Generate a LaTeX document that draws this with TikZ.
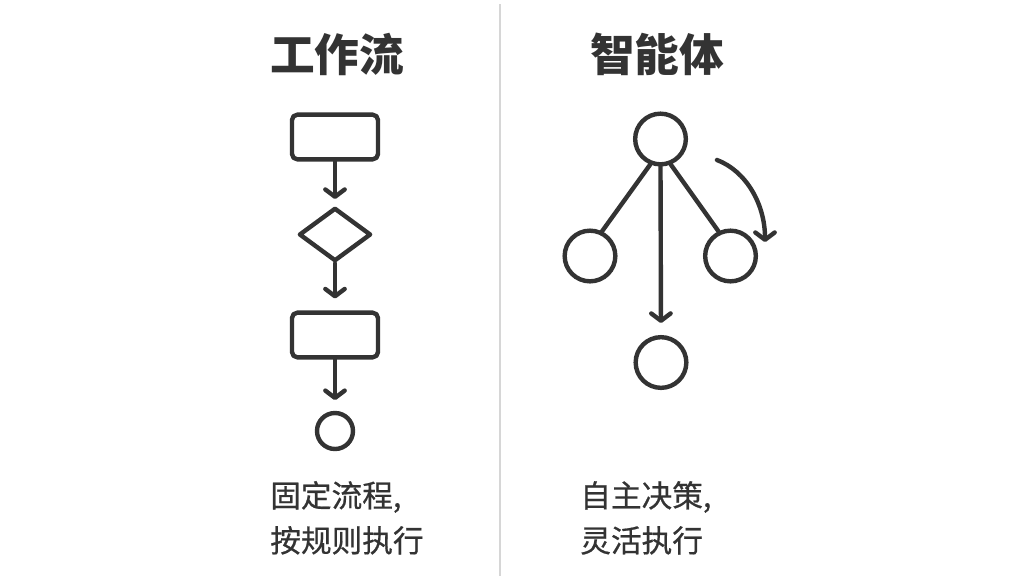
\documentclass[tikz,border=0pt]{standalone}
\usepackage{fontspec}
\setmainfont{Noto Sans CJK SC}
\newfontfamily\captionfont{Noto Sans CJK SC}[FakeBold=0.6]
\usetikzlibrary{arrows.meta,shapes.geometric}
\definecolor{ink}{HTML}{333333}
\definecolor{divider}{HTML}{D6D6D6}
\begin{document}
\begin{tikzpicture}[x=0.75pt,y=-0.75pt,
  stroke/.style={draw=ink,line width=3.3pt,line join=round,line cap=round},
  flowbox/.style={stroke,rectangle,rounded corners=4pt,minimum width=64.5pt,minimum height=33.5pt,inner sep=0pt},
  decision/.style={stroke,diamond,minimum width=54pt,minimum height=40pt,inner sep=0pt},
  endpoint/.style={stroke,circle,minimum size=27pt,inner sep=0pt},
  agent/.style={stroke,circle,minimum size=38pt,inner sep=0pt},
  flow/.style={ink,line width=3.3pt,line cap=round,-{Straight Barb[length=5.5pt,width=14.5pt,round]}},
  link/.style={ink,line width=3.3pt,line cap=round},
  heading/.style={text=ink,font=\bfseries\fontsize{33.5}{36}\selectfont,anchor=base,inner sep=0pt},
  caption/.style={text=ink,font=\captionfont\fontsize{23}{27}\selectfont,anchor=base west,inner sep=0pt}]
  \useasboundingbox[fill=white] (0,0) rectangle (1024,576);

  % divider between the two halves
  \draw[divider,line width=1.2pt] (500,4) -- (500,576);

  % headings
  \node[heading] (wfTitle) at (337,71) {工作流};
  \node[heading] (agTitle) at (657,71) {智能体};

  % workflow: fixed sequence
  \node[flowbox]  (box1) at (335,137) {};
  \node[decision] (dec)  at (335,234.5) {};
  \node[flowbox]  (box2) at (335,335) {};
  \node[endpoint] (stop) at (335,431) {};
  \draw[flow,shorten >=5pt] (box1.south) -- (dec.north);
  \draw[flow,shorten >=9pt] (dec.south) -- (box2.north);
  \draw[flow,shorten >=8pt] (box2.south) -- (stop.north);

  % agent: branching choices
  \node[agent] (hub)   at (660.5,139) {};
  \node[agent] (left)  at (590,256) {};
  \node[agent] (right) at (730.5,256) {};
  \node[agent] (down)  at (661,362.5) {};
  \draw[link] (hub.248) -- (left.64);
  \draw[link] (hub.292) -- (right.116);
  \draw[flow,shorten >=9pt] (hub.south) -- (down.north);
  \coordinate (loopStart) at (717,160);
  \coordinate (loopEnd) at (765,242);
  \draw[flow] (loopStart) .. controls (746,171) and (765,204) .. (loopEnd);

  % captions
  \node[caption] (wfLine1) at (270,507) {固定流程,};
  \node[caption] (wfLine2) at (270,552) {按规则执行};
  \node[caption] (agLine1) at (580,507) {自主决策,};
  \node[caption] (agLine2) at (580,552) {灵活执行};
\end{tikzpicture}
\end{document}
